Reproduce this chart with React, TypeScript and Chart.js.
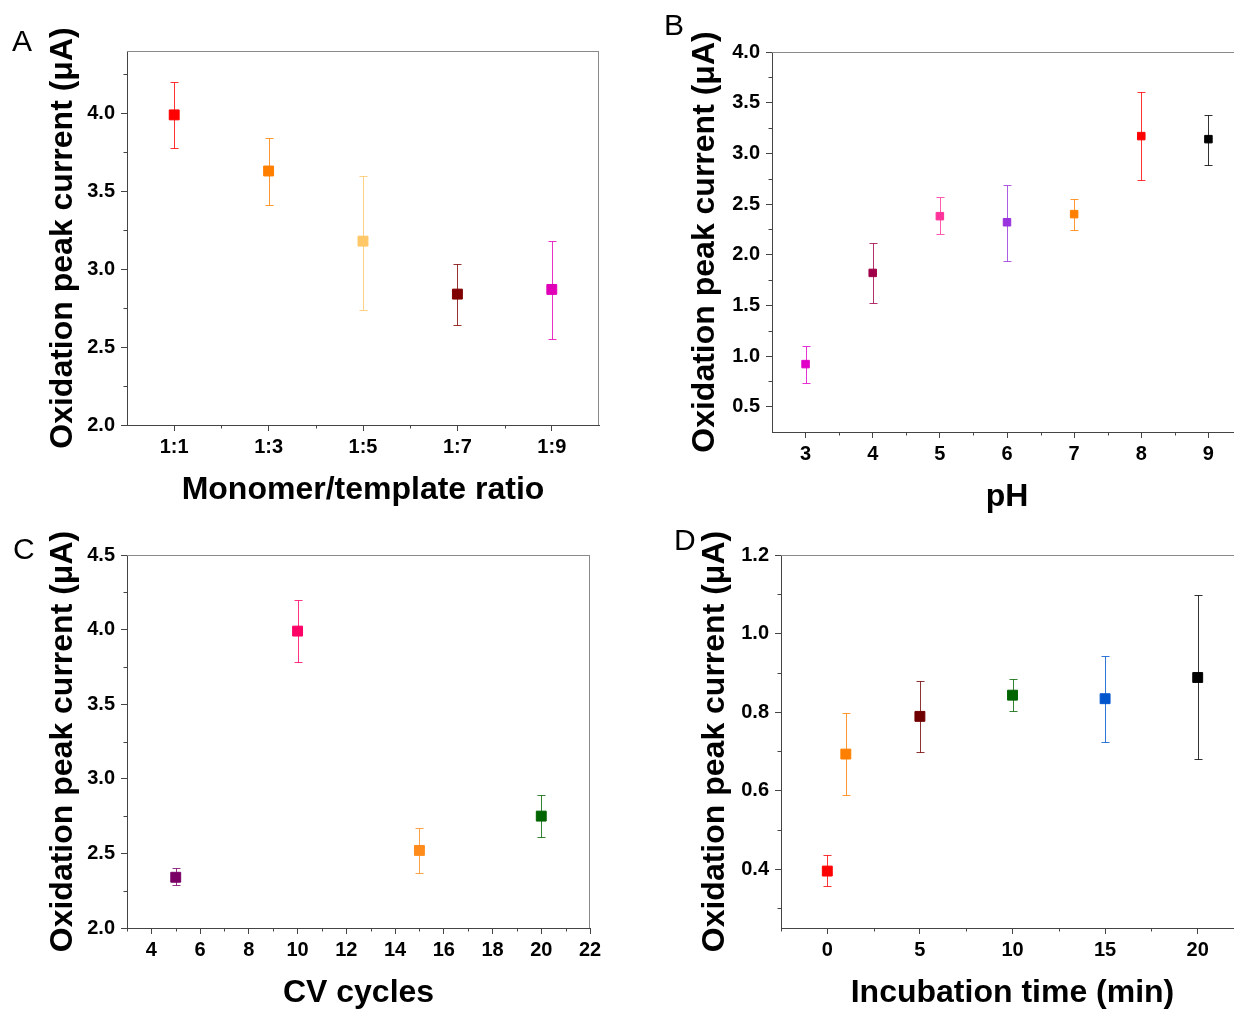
import React, { useEffect, useRef } from "react";
import { Chart, registerables } from "chart.js";

Chart.register(...registerables);

const FONT = "'Liberation Sans', Arial, Helvetica, sans-serif";
const AXIS_COLOR = "#444444";
const FRAME_COLOR = "#8a8a8a";
const Y_TITLE = "Oxidation peak current (μA)";

// ---------- Panel A : monomer/template ratio ----------
const A_LABELS = ["1:1", "1:3", "1:5", "1:7", "1:9"];
const A_X = [1, 2, 3, 4, 5];
const A_Y = [3.99, 3.63, 3.18, 2.84, 2.87];
const A_LO = [3.78, 3.41, 2.74, 2.64, 2.55];
const A_HI = [4.2, 3.84, 3.6, 3.03, 3.18];
const A_COLORS = ["#ff0000", "#ff7f00", "#ffc766", "#800000", "#e000b8"];
const A_Y_TICKS = [2.0, 2.5, 3.0, 3.5, 4.0];
const A_Y_MINOR = [2.25, 2.75, 3.25, 3.75, 4.25];
const A_X_MINOR = [1.5, 2.5, 3.5, 4.5];

// ---------- Panel B : pH ----------
const B_X = [3, 4, 5, 6, 7, 8, 9];
const B_Y = [0.92, 1.82, 2.38, 2.32, 2.4, 3.17, 3.14];
const B_LO = [0.73, 1.52, 2.2, 1.94, 2.24, 2.74, 2.88];
const B_HI = [1.1, 2.12, 2.57, 2.69, 2.55, 3.61, 3.38];
const B_COLORS = ["#e000c8", "#a0004a", "#ff3399", "#9933dd", "#ff8000", "#ff0000", "#000000"];
const B_X_TICKS = [3, 4, 5, 6, 7, 8, 9];
const B_X_MINOR = [3.5, 4.5, 5.5, 6.5, 7.5, 8.5];
const B_Y_TICKS = [0.5, 1.0, 1.5, 2.0, 2.5, 3.0, 3.5, 4.0];
const B_Y_MINOR = [0.75, 1.25, 1.75, 2.25, 2.75, 3.25, 3.75];

// ---------- Panel C : CV cycles ----------
const C_X = [5, 10, 15, 20];
const C_Y = [2.34, 3.99, 2.52, 2.75];
const C_LO = [2.29, 3.78, 2.37, 2.61];
const C_HI = [2.4, 4.2, 2.67, 2.89];
const C_COLORS = ["#7a0066", "#ff0066", "#ff8c1a", "#006400"];
const C_X_TICKS = [4, 6, 8, 10, 12, 14, 16, 18, 20, 22];
const C_X_MINOR = [3, 5, 7, 9, 11, 13, 15, 17, 19, 21];
const C_Y_TICKS = [2.0, 2.5, 3.0, 3.5, 4.0, 4.5];
const C_Y_MINOR = [2.25, 2.75, 3.25, 3.75, 4.25];

// ---------- Panel D : incubation time ----------
const D_X = [0, 1, 5, 10, 15, 20];
const D_Y = [0.395, 0.693, 0.789, 0.843, 0.834, 0.888];
const D_LO = [0.356, 0.588, 0.699, 0.802, 0.724, 0.68];
const D_HI = [0.436, 0.797, 0.878, 0.884, 0.943, 1.097];
const D_COLORS = ["#ff0000", "#ff8000", "#700000", "#006400", "#0055cc", "#000000"];
const D_X_TICKS = [0, 5, 10, 15, 20];
const D_X_MINOR = [-2.5, 2.5, 7.5, 12.5, 17.5];
const D_Y_TICKS = [0.4, 0.6, 0.8, 1.0, 1.2];
const D_Y_MINOR = [0.3, 0.5, 0.7, 0.9, 1.1];

type Panel = {
  letter: string;
  letterPos: [number, number];
  left: number;
  top: number;
  width: number;
  height: number;
  yAxisW: number;
  xAxisH: number;
  padTop: number;
  padRight: number;
  xMin: number;
  xMax: number;
  xTicks: number[];
  xMinor: number[];
  xLabel: (v: number) => string;
  yMin: number;
  yMax: number;
  yTicks: number[];
  yMinor: number[];
  yDigits: number;
  x: number[];
  y: number[];
  lo: number[];
  hi: number[];
  colors: string[];
  radius: number;
  cap: number;
  xTitle: string;
  xTitleBaseline: number;
  yTitleBaseline: number;
};

const PANELS: Panel[] = [
  {
    letter: "A", letterPos: [12, 26],
    left: 0, top: 0, width: 620, height: 520,
    yAxisW: 127, xAxisH: 95, padTop: 51, padRight: 21,
    xMin: 0.5, xMax: 5.5, xTicks: A_X, xMinor: A_X_MINOR,
    xLabel: (v) => A_LABELS[Math.round(v) - 1] ?? "",
    yMin: 2.0, yMax: 4.4, yTicks: A_Y_TICKS, yMinor: A_Y_MINOR, yDigits: 1,
    x: A_X, y: A_Y, lo: A_LO, hi: A_HI, colors: A_COLORS,
    radius: 7, cap: 4,
    xTitle: "Monomer/template ratio", xTitleBaseline: 499, yTitleBaseline: 72,
  },
  {
    letter: "B", letterPos: [664, 10],
    left: 640, top: 0, width: 640, height: 520,
    yAxisW: 132, xAxisH: 88, padTop: 52, padRight: 38,
    xMin: 2.5, xMax: 9.5, xTicks: B_X_TICKS, xMinor: B_X_MINOR,
    xLabel: (v) => String(v),
    yMin: 0.25, yMax: 4.0, yTicks: B_Y_TICKS, yMinor: B_Y_MINOR, yDigits: 1,
    x: B_X, y: B_Y, lo: B_LO, hi: B_HI, colors: B_COLORS,
    radius: 5.3, cap: 4,
    xTitle: "pH", xTitleBaseline: 506, yTitleBaseline: 74,
  },
  {
    letter: "C", letterPos: [13, 534],
    left: 0, top: 520, width: 620, height: 500,
    yAxisW: 127, xAxisH: 92, padTop: 35, padRight: 30,
    xMin: 3, xMax: 22, xTicks: C_X_TICKS, xMinor: C_X_MINOR,
    xLabel: (v) => String(v),
    yMin: 2.0, yMax: 4.5, yTicks: C_Y_TICKS, yMinor: C_Y_MINOR, yDigits: 1,
    x: C_X, y: C_Y, lo: C_LO, hi: C_HI, colors: C_COLORS,
    radius: 7, cap: 4,
    xTitle: "CV cycles", xTitleBaseline: 482, yTitleBaseline: 72,
  },
  {
    letter: "D", letterPos: [674, 525],
    left: 640, top: 520, width: 640, height: 500,
    yAxisW: 141, xAxisH: 92, padTop: 35, padRight: 36,
    xMin: -2.5, xMax: 22.5, xTicks: D_X_TICKS, xMinor: D_X_MINOR,
    xLabel: (v) => String(v),
    yMin: 0.25, yMax: 1.2, yTicks: D_Y_TICKS, yMinor: D_Y_MINOR, yDigits: 1,
    x: D_X, y: D_Y, lo: D_LO, hi: D_HI, colors: D_COLORS,
    radius: 7, cap: 4,
    xTitle: "Incubation time (min)", xTitleBaseline: 482, yTitleBaseline: 84,
  },
];

function makeDecor(p: Panel) {
  return {
    id: "decor" + p.letter,
    beforeDatasetsDraw(chart: any) {
      const { ctx, chartArea } = chart;
      const xs = chart.scales.x;
      const ys = chart.scales.y;
      ctx.save();
      // frame (top & right)
      ctx.strokeStyle = FRAME_COLOR;
      ctx.lineWidth = 1;
      ctx.beginPath();
      ctx.moveTo(chartArea.left, Math.round(chartArea.top) + 0.5);
      ctx.lineTo(chartArea.right, Math.round(chartArea.top) + 0.5);
      ctx.moveTo(Math.round(chartArea.right) - 0.5, chartArea.top);
      ctx.lineTo(Math.round(chartArea.right) - 0.5, chartArea.bottom);
      ctx.stroke();
      // error bars
      p.x.forEach((xv, i) => {
        const px = Math.round(xs.getPixelForValue(xv)) + 0.5;
        const pLo = Math.round(ys.getPixelForValue(p.lo[i])) + 0.5;
        const pHi = Math.round(ys.getPixelForValue(p.hi[i])) + 0.5;
        ctx.strokeStyle = p.colors[i];
        ctx.globalAlpha = 0.8;
        ctx.lineWidth = 1;
        ctx.beginPath();
        ctx.moveTo(px, pLo);
        ctx.lineTo(px, pHi);
        ctx.moveTo(px - p.cap, pLo);
        ctx.lineTo(px + p.cap, pLo);
        ctx.moveTo(px - p.cap, pHi);
        ctx.lineTo(px + p.cap, pHi);
        ctx.stroke();
      });
      ctx.restore();
    },
    afterDraw(chart: any) {
      const { ctx, chartArea } = chart;
      const xs = chart.scales.x;
      const ys = chart.scales.y;
      ctx.save();
      // minor ticks
      ctx.strokeStyle = AXIS_COLOR;
      ctx.lineWidth = 1;
      ctx.beginPath();
      p.yMinor.forEach((v) => {
        const py = Math.round(ys.getPixelForValue(v)) + 0.5;
        ctx.moveTo(chartArea.left - 3.5, py);
        ctx.lineTo(chartArea.left, py);
      });
      p.xMinor.forEach((v) => {
        const px = Math.round(xs.getPixelForValue(v)) + 0.5;
        ctx.moveTo(px, chartArea.bottom);
        ctx.lineTo(px, chartArea.bottom + 3.5);
      });
      ctx.stroke();
      // axis titles
      ctx.fillStyle = "#000";
      ctx.font = `bold 32px ${FONT}`;
      ctx.textAlign = "center";
      ctx.textBaseline = "alphabetic";
      ctx.fillText(p.xTitle, (chartArea.left + chartArea.right) / 2, p.xTitleBaseline);
      ctx.translate(p.yTitleBaseline, (chartArea.top + chartArea.bottom) / 2);
      ctx.rotate(-Math.PI / 2);
      ctx.fillText(Y_TITLE, 0, 0);
      ctx.restore();
    },
  };
}

function PanelChart({ p }: { p: Panel }) {
  const ref = useRef<HTMLCanvasElement | null>(null);
  useEffect(() => {
    if (!ref.current) return;
    const tickFont = { family: FONT, size: 20, weight: "bold" as const };
    const gridCfg = {
      display: true,
      drawOnChartArea: false,
      drawTicks: true,
      tickLength: 6,
      color: AXIS_COLOR,
      lineWidth: 1,
    };
    const chart = new Chart(ref.current, {
      type: "scatter",
      data: {
        datasets: [
          {
            data: p.x.map((xv, i) => ({ x: xv, y: p.y[i] })),
            pointStyle: "rect",
            pointRadius: p.radius,
            pointHoverRadius: p.radius,
            pointBackgroundColor: p.colors,
            pointBorderColor: p.colors,
            pointBorderWidth: 1,
            showLine: false,
          } as any,
        ],
      },
      options: {
        responsive: false,
        animation: false,
        devicePixelRatio: 1,
        events: [],
        layout: { padding: { top: p.padTop, right: p.padRight, left: 0, bottom: 0 } },
        plugins: { legend: { display: false }, tooltip: { enabled: false } },
        scales: {
          x: {
            type: "linear",
            min: p.xMin,
            max: p.xMax,
            afterBuildTicks: (s: any) => {
              s.ticks = p.xTicks.map((v) => ({ value: v }));
            },
            afterFit: (s: any) => {
              s.height = p.xAxisH;
            },
            grid: gridCfg,
            border: { display: true, color: AXIS_COLOR, width: 1 },
            ticks: {
              font: tickFont,
              color: "#000",
              padding: 4,
              maxRotation: 0,
              autoSkip: false,
              callback: (v: any) => p.xLabel(Number(v)),
            },
          },
          y: {
            type: "linear",
            min: p.yMin,
            max: p.yMax,
            afterBuildTicks: (s: any) => {
              s.ticks = p.yTicks.map((v) => ({ value: v }));
            },
            afterFit: (s: any) => {
              s.width = p.yAxisW;
            },
            grid: gridCfg,
            border: { display: true, color: AXIS_COLOR, width: 1 },
            ticks: {
              font: tickFont,
              color: "#000",
              padding: 6,
              autoSkip: false,
              callback: (v: any) => Number(v).toFixed(p.yDigits),
            },
          },
        },
      },
      plugins: [makeDecor(p)],
    } as any);
    return () => chart.destroy();
  }, [p]);
  return (
    <canvas
      ref={ref}
      width={p.width}
      height={p.height}
      style={{ position: "absolute", left: p.left, top: p.top, width: p.width, height: p.height }}
    />
  );
}

export default function App() {
  return (
    <div
      style={{
        position: "fixed",
        left: 0,
        top: 0,
        width: 1234,
        height: 1009,
        overflow: "hidden",
        background: "#ffffff",
      }}
    >
      {PANELS.map((p) => (
        <PanelChart key={p.letter} p={p} />
      ))}
      {PANELS.map((p) => (
        <span
          key={"l" + p.letter}
          style={{
            position: "absolute",
            left: p.letterPos[0],
            top: p.letterPos[1],
            fontFamily: FONT,
            fontSize: 30,
            lineHeight: "30px",
            color: "#000",
          }}
        >
          {p.letter}
        </span>
      ))}
    </div>
  );
}
